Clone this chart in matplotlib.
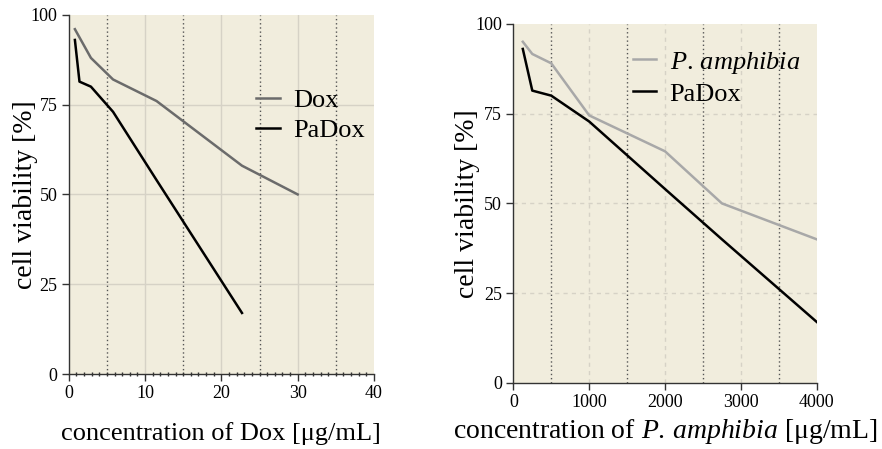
import matplotlib
matplotlib.use("Agg")
import matplotlib.pyplot as plt
from matplotlib.ticker import MultipleLocator

plt.rcParams['font.family'] = ['Liberation Serif', 'DejaVu Serif']
plt.rcParams['mathtext.fontset'] = 'custom'
plt.rcParams['mathtext.rm'] = 'Liberation Serif'
plt.rcParams['mathtext.it'] = 'Liberation Serif:italic'

# Dados - painel esquerdo (Dox)
dox_x = [0.8, 2.9, 5.8, 11.5, 22.7, 30]
dox_y = [96, 88, 82, 76, 58, 50]
padox1_x = [0.8, 1.4, 2.9, 5.8, 11.5, 22.7]
padox1_y = [93, 81.4, 80, 73, 54, 17]

# Dados - painel direito (P. amphibia)
pa_x = [125, 250, 500, 1000, 2000, 2750, 4000]
pa_y = [95, 91.6, 89, 74.5, 64.5, 50, 40]
padox2_x = [125, 250, 500, 1000, 2000, 2750, 4000]
padox2_y = [93, 81.4, 80, 72.8, 54, 40, 17]

bg = '#f1eddd'
fig = plt.figure(figsize=(8.82, 4.49), dpi=100)
ax1 = fig.add_axes([0.078, 0.167, 0.346, 0.800])
ax2 = fig.add_axes([0.582, 0.147, 0.344, 0.800])


def estilo(ax, xmax, passo_maj, grid_ls):
    ax.set_facecolor(bg)
    ax.set_xlim(0, xmax)
    ax.set_ylim(0, 100)
    ax.set_yticks([0, 25, 50, 75, 100])
    ax.xaxis.set_major_locator(MultipleLocator(passo_maj))
    for s in ['top', 'right']:
        ax.spines[s].set_visible(False)
    for s in ['left', 'bottom']:
        ax.spines[s].set_linewidth(1.0)
        ax.spines[s].set_color('#333333')
    ax.tick_params(axis='both', which='major', length=5, width=1,
                   color='#333333', labelsize=13, pad=3)
    # grelha principal clara
    for v in [25, 50, 75]:
        ax.axhline(v, color='#d6d2c6', lw=1, ls=grid_ls, zorder=0)
    for v in range(passo_maj, xmax, passo_maj):
        ax.axvline(v, color='#d6d2c6', lw=1, ls=grid_ls, zorder=0)
    # linhas pontilhadas escuras a meio
    for v in range(passo_maj // 2, xmax, passo_maj):
        ax.axvline(v, color='#555555', lw=1, ls=(0, (1, 2)), zorder=1)


estilo(ax1, 40, 10, '-')
ax1.xaxis.set_minor_locator(MultipleLocator(1))
ax1.tick_params(axis='x', which='minor', length=3, width=1,
                direction='inout', color='#333333')
ax1.plot(dox_x, dox_y, color='#6b6b6b', lw=1.8, label='Dox')
ax1.plot(padox1_x, padox1_y, color='black', lw=1.8, label='PaDox')
ax1.set_xlabel('concentration of Dox [μg/mL]', fontsize=19, labelpad=14)
ax1.set_ylabel('cell viability [%]', fontsize=20)
ax1.yaxis.set_label_coords(-0.10, 0.5)
ax1.legend(loc='upper left', bbox_to_anchor=(0.57, 0.832), frameon=False,
           fontsize=19, handlelength=0.9, handletextpad=0.5,
           labelspacing=0.25, borderpad=0)

estilo(ax2, 4000, 1000, (0, (3, 3)))
ax2.plot(pa_x, pa_y, color='#a8a8a8', lw=1.8, label='$\\it{P.\\,amphibia}$')
ax2.plot(padox2_x, padox2_y, color='black', lw=1.8, label='PaDox')
ax2.set_xlabel('concentration of $\\it{P.\\,amphibia}$ [μg/mL]', fontsize=20,
               labelpad=4)
ax2.set_ylabel('cell viability [%]', fontsize=20)
ax2.yaxis.set_label_coords(-0.11, 0.5)
ax2.legend(loc='upper left', bbox_to_anchor=(0.35, 0.965), frameon=False,
           fontsize=19, handlelength=0.9, handletextpad=0.5,
           labelspacing=0.25, borderpad=0)

fig.savefig('out.png', dpi=100, facecolor='white')
